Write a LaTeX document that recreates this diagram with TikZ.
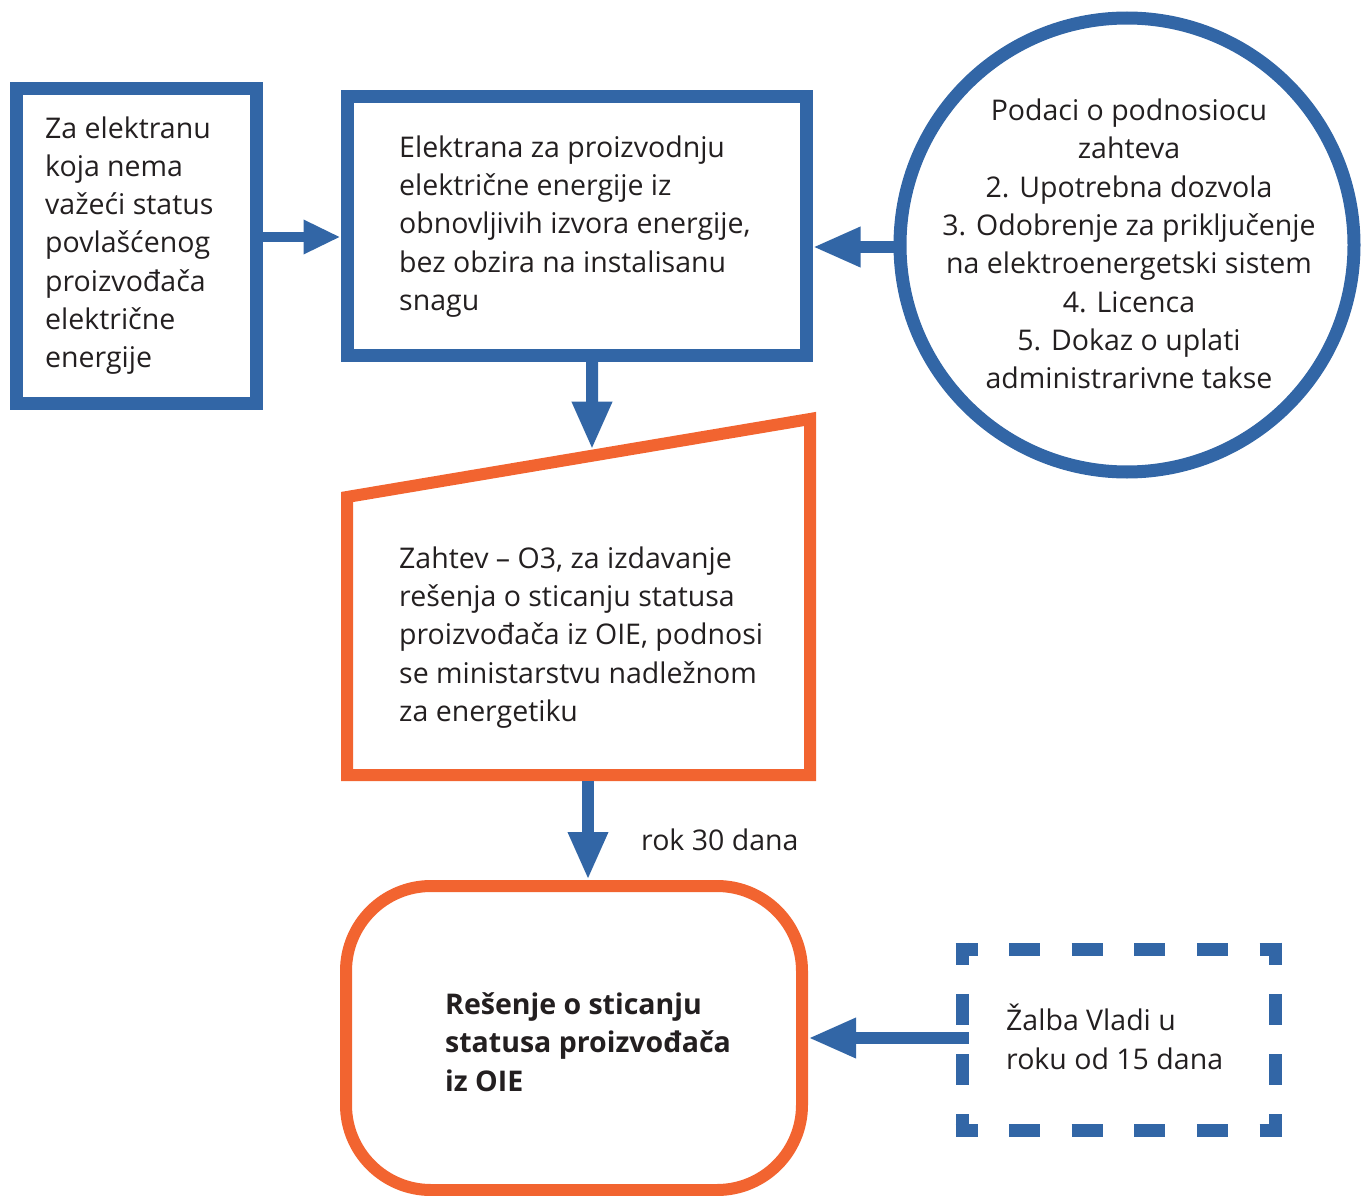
\documentclass[tikz,border=0pt]{standalone}
\usepackage{fontspec}
\setmainfont{Open Sans}
\usetikzlibrary{arrows.meta,calc}
\definecolor{bl}{HTML}{3266A6}
\definecolor{og}{HTML}{F26430}
\definecolor{tx}{HTML}{231F20}
\begin{document}
\begin{tikzpicture}[x=1pt,y=-1pt,
  txt/.style={font=\fontsize{28.5}{38.3}\selectfont, text=tx, align=left, inner sep=0pt, anchor=west},
  bluebox/.style={draw=bl, line width=13pt, inner sep=0pt},
  arr/.style={draw=bl, line width=12pt, -{Triangle[length=48pt,width=37pt]}},
  arrsmall/.style={draw=bl, line width=10pt, -{Triangle[length=37pt,width=32pt]}},
  dashside/.style={draw=bl, line width=13pt, dash pattern=on 31pt off #1, dash phase=9pt}
]
\useasboundingbox (0,0) rectangle (1363,1196);

% boxes
\node[bluebox, minimum width=240pt, minimum height=314pt] (b1) at (136,246) {};
\node[bluebox, minimum width=459pt, minimum height=258pt] (b2) at (576.5,226) {};
\node[bluebox, circle, minimum size=454pt] (circ) at (1127,245) {};

% trapezoid
\coordinate (tl) at (347,497);
\coordinate (tr) at (810,419);
\coordinate (br) at (810,775);
\coordinate (bm) at (588,775);
\coordinate (bl) at (347,775);
\draw[og, line width=12pt, line join=miter] (tl) -- (tr) -- (br) -- (bl) -- cycle;

% rounded box
\node[draw=og, line width=12pt, rounded corners=85pt, minimum width=456pt, minimum height=304pt, inner sep=0pt] (rr) at (574,1038) {};

% dashed box
\node[minimum width=313pt, minimum height=181pt, inner sep=0pt, outer sep=0pt] (zal) at (1118.5,1039.5) {};
\draw[dashside=31.6pt] ([xshift=-6.5pt]zal.north west) -- ([xshift=6.5pt]zal.north east);
\draw[dashside=31.6pt] ([xshift=-6.5pt]zal.south west) -- ([xshift=6.5pt]zal.south east);
\draw[dashside=29.3pt] ([yshift=6.5pt]zal.north west) -- ([yshift=-6.5pt]zal.south west);
\draw[dashside=29.3pt] ([yshift=6.5pt]zal.north east) -- ([yshift=-6.5pt]zal.south east);

% texts
\node[txt] (t1) at (45,245.5) {Za elektranu\\koja nema\\važeći status\\povlašćenog\\proizvođača\\električne\\energije};
\node[txt] (t2) at (399,226.5) {Elektrana za proizvodnju\\električne energije iz\\obnovljivih izvora energije,\\bez obzira na instalisanu\\snagu};
\node[txt, align=center, anchor=center] (t3) at (1129,244) {Podaci o podnosiocu\\zahteva\\2. Upotrebna dozvola\\3. Odobrenje za priključenje\\na elektroenergetski sistem\\4. Licenca\\5. Dokaz o uplati\\administrarivne takse};
\node[txt] (t4) at (399,637.5) {Zahtev – O3, za izdavanje\\rešenja o sticanju statusa\\proizvođača iz OIE, podnosi\\se ministarstvu nadležnom\\za energetiku};
\node[txt, font=\fontsize{28.5}{38.3}\selectfont\bfseries] (t5) at (445,1042) {Rešenje o sticanju\\statusa proizvođača\\iz OIE};
\node[txt] (t6) at (1006,1037) {Žalba Vladi u\\roku od 15 dana};
\node[txt] (t7) at (641,840) {rok 30 dana};

% connectors
\coordinate (y1) at (0,237);
\coordinate (y2) at (0,247);
\coordinate (y5) at (0,1038);
\coordinate (x3) at (592,0);
\coordinate (tin) at ($(tl)!{(592-347)/(810-347)}!(tr)$);
\draw[arrsmall] (b1.east |- y1) -- (b2.west |- y1);
\draw[arr] (circ.west |- y2) -- (b2.east |- y2);
\draw[arr, shorten >=6pt] (b2.south -| x3) -- (tin);
\draw[arr] ([yshift=-6pt]bm) -- (rr.north -| bm);
\draw[arr] ([xshift=6.5pt]zal.west |- y5) -- (rr.east |- y5);
\end{tikzpicture}
\end{document}
